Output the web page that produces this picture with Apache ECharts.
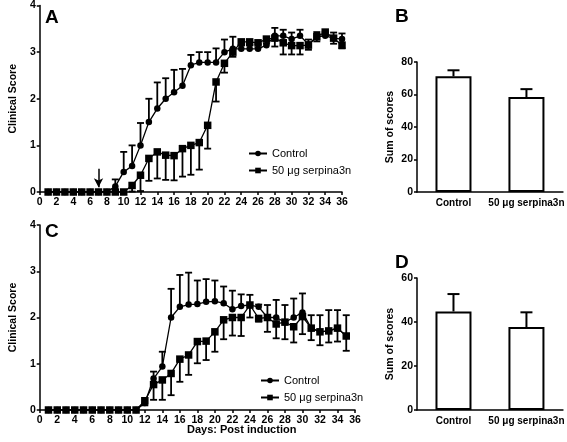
<!DOCTYPE html>
<html><head><meta charset="utf-8">
<script src="https://cdn.jsdelivr.net/npm/echarts@6/dist/echarts.min.js"></script>
<style>html,body{margin:0;padding:0;background:#fff}#c{width:567px;height:442px}</style>
</head><body><div id="c"></div>
<script>
const daysA = [1,2,3,4,5,6,7,8,9,10,11,12,13,14,15,16,17,18,19,20,21,22,23,24,25,26,27,28,29,30,31,32,33,34,35,36];
const ctrlA = [0,0,0,0,0,0,0,0,0.12,0.43,0.56,1.0,1.5,1.79,2.0,2.14,2.28,2.72,2.78,2.78,2.78,3.0,3.07,3.07,3.07,3.07,3.15,3.35,3.35,3.28,3.35,3.17,3.33,3.35,3.3,3.28];
const ctrlAErr = [0,0,0,0,0,0,0,0,0.15,0.43,0.44,0.48,0.5,0.56,0.44,0.48,0.36,0.22,0.22,0.22,0.3,0.27,0.26,0.08,0.08,0.1,0.1,0.17,0.13,0.14,0.13,0.1,0.1,0.08,0.12,0.12];
const serpA = [0,0,0,0,0,0,0,0,0,0,0.14,0.36,0.72,0.86,0.79,0.78,0.93,1.0,1.06,1.43,2.36,2.76,3.0,3.22,3.22,3.2,3.28,3.3,3.2,3.14,3.14,3.15,3.33,3.43,3.3,3.15];
const serpAErr = [0,0,0,0,0,0,0,0,0,0,0.13,0.34,0.48,0.57,0.53,0.53,0.6,0.63,0.58,0.5,0.42,0.2,0.1,0.08,0.08,0.1,0.1,0.18,0.25,0.19,0.19,0.1,0.1,0.08,0.12,0.07];

const daysC = [1,2,3,4,5,6,7,8,9,10,11,12,13,14,15,16,17,18,19,20,21,22,23,24,25,26,27,28,29,30,31,32,33,34,35];
const ctrlC = [0,0,0,0,0,0,0,0,0,0,0,0.15,0.68,0.94,2.0,2.23,2.28,2.29,2.34,2.35,2.31,2.18,2.25,2.27,2.23,2.0,2.0,1.9,2.0,2.11,1.77,1.69,1.71,1.77,1.6];
const ctrlCErr = [0,0,0,0,0,0,0,0,0,0,0,0,0.15,0.32,0.62,0.69,0.69,0.51,0.49,0.45,0.36,0.4,0.25,0.22,0.05,0.27,0.38,0.37,0.41,0.41,0.28,0.36,0.45,0.39,0.45];
const serpC = [0,0,0,0,0,0,0,0,0,0,0,0.2,0.55,0.65,0.79,1.1,1.19,1.48,1.49,1.69,1.95,2.0,2.0,2.27,1.98,2.0,1.86,1.9,1.8,2.02,1.77,1.69,1.71,1.77,1.6];
const serpCErr = [0,0,0,0,0,0,0,0,0,0,0,0.1,0.33,0.43,0.47,0.49,0.43,0.47,0.41,0.43,0.42,0.39,0.4,0.27,0.07,0.31,0.31,0.37,0.34,0.38,0.26,0.29,0.25,0.29,0.32];

const groups = ['Control', '50 \u03bcg serpina3n'];
const sumB = [71.2, 58.4];
const sumBErr = [3.7, 4.9];
const sumD = [44.8, 37.7];
const sumDErr = [7.9, 6.7];

const FONT = 'Liberation Sans, Arial, sans-serif';
const BLACK = '#000';

function errRender(dir) {
  return function (params, api) {
    const x = api.value(0), y = api.value(1), e = api.value(2);
    if (!e) return null;
    const p0 = api.coord([x, y]);
    const p1 = api.coord([x, y + dir * e]);
    const w = 3.5;
    return {
      type: 'group',
      children: [
        {type: 'line', shape: {x1: p0[0], y1: p0[1], x2: p1[0], y2: p1[1]}, style: {stroke: BLACK, lineWidth: 1.8}},
        {type: 'line', shape: {x1: p1[0] - w, y1: p1[1], x2: p1[0] + w, y2: p1[1]}, style: {stroke: BLACK, lineWidth: 1.8}}
      ]
    };
  };
}
function barErrRender(params, api) {
  const i = api.value(0), y = api.value(1), e = api.value(2);
  const p0 = api.coord([i, y]);
  const p1 = api.coord([i, y + e]);
  const w = 6;
  return {
    type: 'group',
    children: [
      {type: 'line', shape: {x1: p0[0], y1: p0[1], x2: p1[0], y2: p1[1]}, style: {stroke: BLACK, lineWidth: 2}},
      {type: 'line', shape: {x1: p1[0] - w, y1: p1[1], x2: p1[0] + w, y2: p1[1]}, style: {stroke: BLACK, lineWidth: 2}}
    ]
  };
}

const axisLine = {show: true, lineStyle: {color: BLACK, width: 1.5}};
const axisTick = {show: true, length: 3, inside: false, lineStyle: {color: BLACK, width: 1.5}};
const tickLabel = {color: BLACK, fontFamily: FONT, fontWeight: 'bold', fontSize: 10.5, margin: 4};

function valX(idx, max) {
  return {type: 'value', gridIndex: idx, min: 0, max: max, interval: 2, axisLine: axisLine, axisTick: axisTick,
    axisLabel: Object.assign({}, tickLabel, {margin: 5}), splitLine: {show: false}};
}
function valY(idx, max, interval, name, gap) {
  return {type: 'value', gridIndex: idx, min: 0, max: max, interval: interval, axisLine: axisLine, axisTick: axisTick,
    axisLabel: tickLabel, splitLine: {show: false},
    name: name, nameLocation: 'middle', nameGap: gap, nameRotate: 90,
    nameTextStyle: {color: BLACK, fontFamily: FONT, fontWeight: 'bold', fontSize: 10.5}};
}
function catX(idx) {
  return {type: 'category', gridIndex: idx, data: groups, axisLine: axisLine, axisTick: {show: false},
    axisLabel: Object.assign({}, tickLabel, {margin: 6, interval: 0, fontSize: 10})};
}
function lineSeries(name, xi, xs, ys, sym, size) {
  return {name: name, type: 'line', xAxisIndex: xi, yAxisIndex: xi,
    data: xs.map((d, i) => [d, ys[i]]), symbol: sym, symbolSize: size, showSymbol: true,
    itemStyle: {color: BLACK}, lineStyle: {color: BLACK, width: 1.3}, z: 3, animation: false};
}
function errSeries(xi, xs, ys, es, dir) {
  return {type: 'custom', xAxisIndex: xi, yAxisIndex: xi, renderItem: errRender(dir),
    data: xs.map((d, i) => [d, ys[i], es[i]]), z: 2, silent: true, animation: false};
}

const chart = echarts.init(document.getElementById('c'), null, {renderer: 'canvas'});
const labelStyle = {color: BLACK, fontFamily: FONT, fontWeight: 'bold', fontSize: 19};
const legendText = {color: BLACK, fontFamily: FONT, fontSize: 11};

chart.setOption({
  animation: false,
  backgroundColor: '#fff',
  title: [
    {text: 'A', left: 40, top: 3, textStyle: labelStyle},
    {text: 'B', left: 390, top: 2, textStyle: labelStyle},
    {text: 'C', left: 40, top: 217, textStyle: labelStyle},
    {text: 'D', left: 390, top: 248, textStyle: labelStyle},
    {text: 'Days: Post induction', left: 182, top: 419, textStyle: {color: BLACK, fontFamily: FONT, fontWeight: 'bold', fontSize: 11}}
  ],
  legend: [
    {data: groups, orient: 'vertical', left: 243, top: 143, itemWidth: 18, itemHeight: 7, itemGap: 6, textStyle: legendText, selectedMode: false},
    {data: groups, orient: 'vertical', left: 255, top: 370, itemWidth: 18, itemHeight: 7, itemGap: 6, textStyle: legendText, selectedMode: false}
  ],
  grid: [
    {left: 25, top: 4, width: 317, height: 188},
    {left: 25, top: 225, width: 330, height: 185},
    {left: 417, top: 62, width: 148, height: 130},
    {left: 417, top: 278, width: 148, height: 132}
  ],
  xAxis: [valX(0, 36), valX(1, 36), catX(2), catX(3)],
  yAxis: [valY(0, 4, 1, 'Clinical Score', 14), valY(1, 4, 1, 'Clinical Score', 14),
          valY(2, 80, 20, 'Sum of scores', 21), valY(3, 60, 20, 'Sum of scores', 21)],
  series: [
    errSeries(0, daysA, ctrlA, ctrlAErr, 1),
    errSeries(0, daysA, serpA, serpAErr, -1),
    Object.assign(lineSeries(groups[0], 0, daysA, ctrlA, 'circle', 6.5), {
      markLine: {silent: true, symbol: ['none', 'arrow'], symbolSize: [7, 9], label: {show: false},
        lineStyle: {color: BLACK, width: 1.5, type: 'solid'},
        data: [[{coord: [7, 0.5]}, {coord: [7, 0.1]}]]}
    }),
    lineSeries(groups[1], 0, daysA, serpA, 'rect', 7.5),
    errSeries(1, daysC, ctrlC, ctrlCErr, 1),
    errSeries(1, daysC, serpC, serpCErr, -1),
    lineSeries(groups[0], 1, daysC, ctrlC, 'circle', 6.5),
    lineSeries(groups[1], 1, daysC, serpC, 'rect', 7.5),
    {type: 'bar', xAxisIndex: 2, yAxisIndex: 2, data: sumB, barWidth: 36,
      itemStyle: {color: '#fff', borderColor: BLACK, borderWidth: 2}, z: 2},
    {type: 'custom', xAxisIndex: 2, yAxisIndex: 2, renderItem: barErrRender, data: sumB.map((v, i) => [i, v, sumBErr[i]]), z: 1},
    {type: 'bar', xAxisIndex: 3, yAxisIndex: 3, data: sumD, barWidth: 36,
      itemStyle: {color: '#fff', borderColor: BLACK, borderWidth: 2}, z: 2},
    {type: 'custom', xAxisIndex: 3, yAxisIndex: 3, renderItem: barErrRender, data: sumD.map((v, i) => [i, v, sumDErr[i]]), z: 1}
  ]
});
</script></body></html>
